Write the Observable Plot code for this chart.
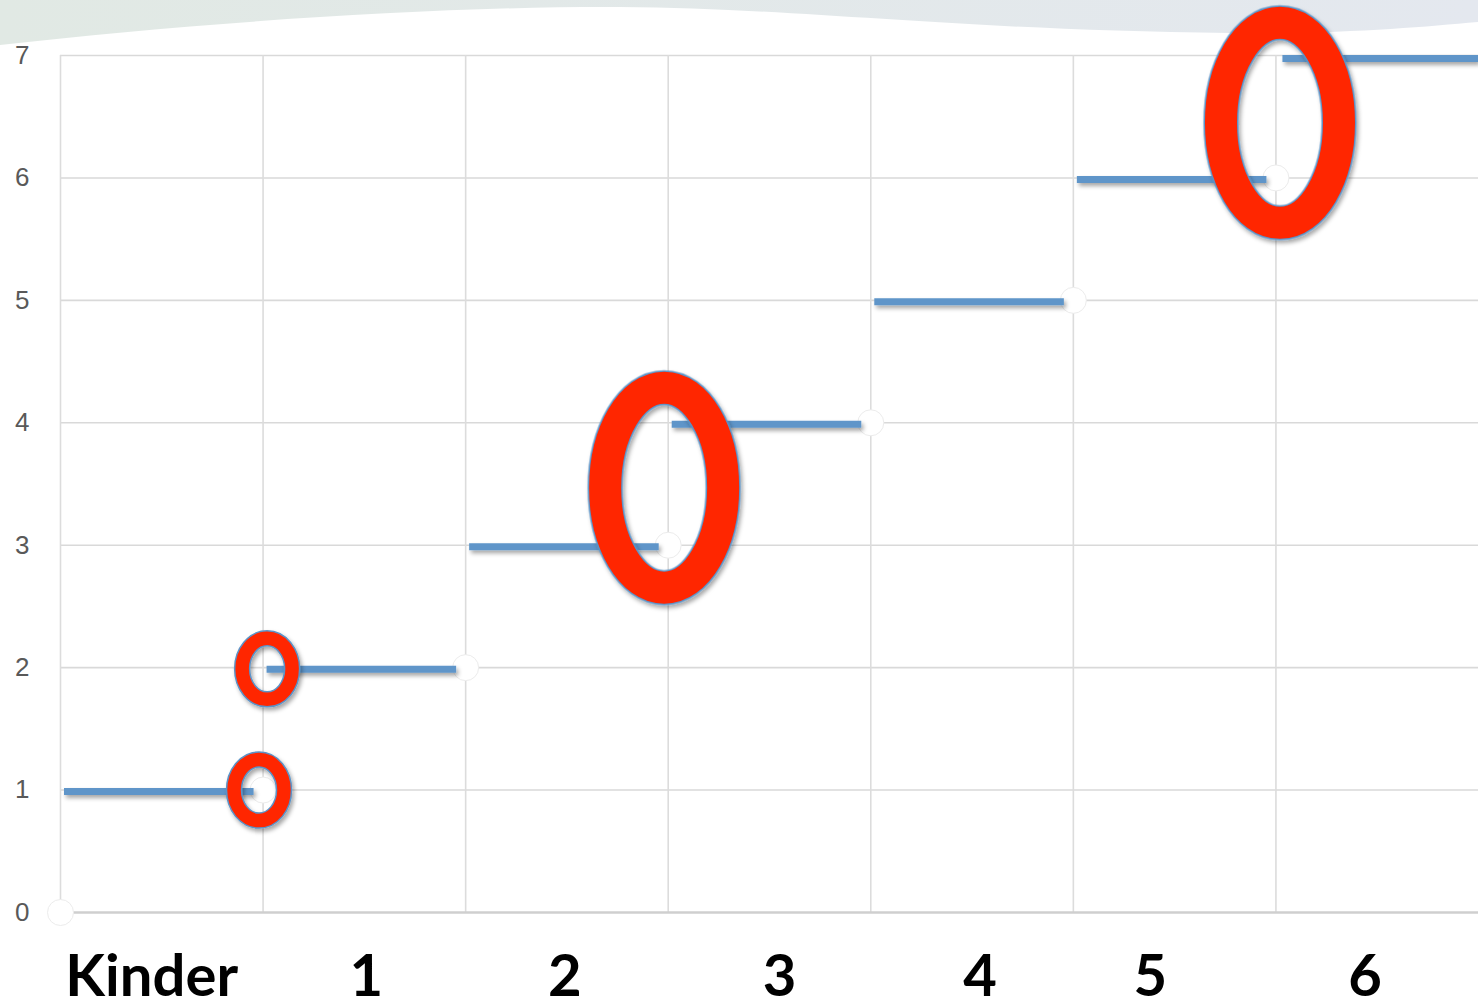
<!DOCTYPE html>
<html>
<head>
<meta charset="utf-8">
<script src="https://cdn.jsdelivr.net/npm/d3@7"></script>
<script src="https://cdn.jsdelivr.net/npm/@observablehq/plot@0.6"></script>
<style>
  html, body { margin: 0; padding: 0; background: #ffffff; }
  #chart { width: 1478px; height: 1006px; overflow: hidden; }
</style>
</head>
<body>
<div id="chart"></div>
<script>
// ---- data ----
const stepStart = [0, 1, 2, 3, 4, 5, 6];
const stepEnd   = [1, 2, 3, 4, 5, 6, 7];
const stepValue = [1, 2, 3, 4, 5, 6, 7];
const markerX = [0, 1, 2, 3, 4, 5, 6];
const markerY = [0, 1, 2, 3, 4, 5, 6];
const gradeLabels = ["Kinder", "1", "2", "3", "4", "5", "6"];
const gradeLabelX = [0.45, 1.51, 2.49, 3.55, 4.54, 5.38, 6.44];
const yTicks = [0, 1, 2, 3, 4, 5, 6, 7];
const ringX = [0.98, 1.02, 2.98, 6.02];
const ringY = [1.0, 1.99, 3.47, 6.45];
const ringSize = ["small", "small", "large", "large"];

const steps = stepStart.map((s, i) => ({x1: s, x2: stepEnd[i], y: stepValue[i]}));
const markers = markerX.map((x, i) => ({x, y: markerY[i]}));
const labels = gradeLabels.map((t, i) => ({t, x: gradeLabelX[i]}));
const rings = ringX.map((x, i) => ({x, y: ringY[i], size: ringSize[i]}));

function ellipseSymbol(rx, ry) {
  const k = 0.5523;
  return {
    draw(ctx) {
      ctx.moveTo(rx, 0);
      ctx.bezierCurveTo(rx, ry * k, rx * k, ry, 0, ry);
      ctx.bezierCurveTo(-rx * k, ry, -rx, ry * k, -rx, 0);
      ctx.bezierCurveTo(-rx, -ry * k, -rx * k, -ry, 0, -ry);
      ctx.bezierCurveTo(rx * k, -ry, rx, -ry * k, rx, 0);
      ctx.closePath();
    }
  };
}
const smallRing = ellipseSymbol(25, 30.5);
const largeRing = ellipseSymbol(59, 100);
const smallRings = rings.filter(d => d.size === "small");
const largeRings = rings.filter(d => d.size === "large");

const red = "#ff2600";
const edge = "#5b93c7";
const lineBlue = "#5e95c9";

const plot = Plot.plot({
  width: 1478,
  height: 1006,
  marginLeft: 60,
  marginRight: 0,
  marginTop: 55,
  marginBottom: 94,
  style: {background: "transparent", fontFamily: "'Liberation Sans', Arial, sans-serif", fontSize: "26px", color: "#595959"},
  x: {domain: [0, 7], axis: null},
  y: {domain: [0, 7], ticks: yTicks, tickSize: 0, tickPadding: 31, label: null, tickFormat: d => String(d)},
  marks: [
    Plot.ruleY(yTicks.filter(d => d > 0), {stroke: "#d9d9d9", strokeWidth: 1.6}),
    Plot.ruleX(markerX, {stroke: "#dcdcdc", strokeWidth: 1.6}),
    Plot.ruleY([0], {stroke: "#cfcfcf", strokeWidth: 2.6}),
    Plot.dot(markers, {x: "x", y: "y", r: 13, fill: "#ffffff", stroke: "#ececec", strokeWidth: 1}),
    Plot.ruleY(steps.slice(0, 6), {x1: "x1", x2: "x2", y: "y", dy: 1.5, stroke: lineBlue, strokeWidth: 7, insetLeft: 4, insetRight: 9, ariaDescription: "shadowed"}),
    Plot.ruleY(steps.slice(6), {x1: "x1", x2: "x2", y: "y", dy: 3, stroke: lineBlue, strokeWidth: 7, insetLeft: 7, ariaDescription: "shadowed"}),
    Plot.dot(smallRings, {x: "x", y: "y", symbol: smallRing, fill: "none", stroke: edge, strokeWidth: 16.5, ariaDescription: "shadowed"}),
    Plot.dot(smallRings, {x: "x", y: "y", symbol: smallRing, fill: "none", stroke: red, strokeWidth: 13.5}),
    Plot.dot(largeRings, {x: "x", y: "y", symbol: largeRing, fill: "none", stroke: edge, strokeWidth: 35, ariaDescription: "shadowed"}),
    Plot.dot(largeRings, {x: "x", y: "y", symbol: largeRing, fill: "none", stroke: red, strokeWidth: 32}),
    Plot.text(labels, {x: "x", y: () => 0, text: "t", dy: 65, fontSize: 58, fontWeight: "bold", fontFamily: "Lato, 'Liberation Sans', sans-serif", fill: "#000000", textAnchor: "middle"})
  ]
});

const svg = d3.select(plot);
const defs = svg.insert("defs", ":first-child");
const f = defs.append("filter").attr("id", "shadow")
  .attr("filterUnits", "userSpaceOnUse")
  .attr("x", 0).attr("y", 0).attr("width", 1478).attr("height", 1006);
f.append("feDropShadow").attr("dx", 2).attr("dy", 3).attr("stdDeviation", 2).attr("flood-color", "#000").attr("flood-opacity", 0.35);
const grad = defs.append("linearGradient").attr("id", "wave").attr("x1", "0").attr("x2", "1").attr("y1", "0").attr("y2", "0");
grad.append("stop").attr("offset", "0").attr("stop-color", "#e1e9e4");
grad.append("stop").attr("offset", "1").attr("stop-color", "#e4e8ef");
// decorative slide background band
svg.insert("path", "defs + *")
  .attr("d", "M0,45 C200,22 450,6 620,7 C800,8 950,30 1230,33 C1350,34 1420,27 1478,22 L1478,0 L0,0 Z")
  .attr("fill", "url(#wave)");
svg.selectAll("g[aria-description=shadowed]").attr("filter", "url(#shadow)");

document.getElementById("chart").appendChild(plot);
</script>
</body>
</html>
